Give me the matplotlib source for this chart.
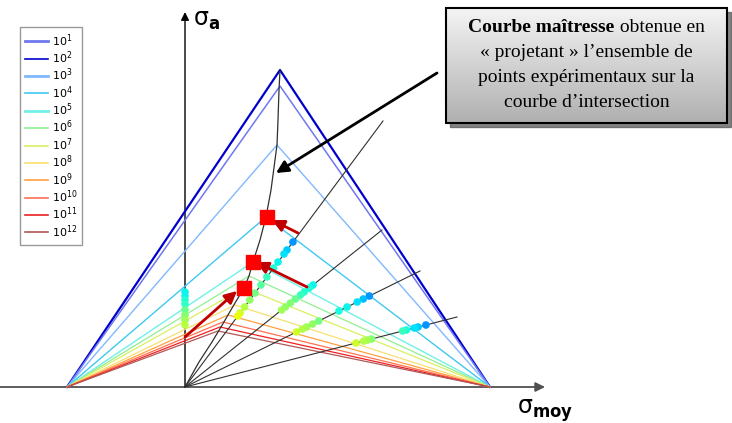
import numpy as np
import matplotlib.pyplot as plt
from matplotlib.patches import Rectangle, FancyArrowPatch
from matplotlib.lines import Line2D
from matplotlib.colors import LinearSegmentedColormap

# diagramme de Haigh (unites de contrainte arbitraires)
exposants = [1, 2, 3, 4, 5, 6, 7, 8, 9, 10, 11, 12]
couleurs = ['#7078f0', '#0000cc', '#80b8ff', '#40c8f0', '#70f0e8', '#90f090',
            '#d8f060', '#f8e070', '#ffa040', '#ff7050', '#ee2020', '#b05858']
largeurs = [1.1, 1.6, 1.0, 1.0, 1.0, 0.9, 0.9, 0.9, 0.9, 0.9, 0.9, 0.9]
pic_moy = [95, 95, 92, 81, 68, 64, 59, 50, 43, 38, 35, 33]
pic_a = [301, 317, 242, 170, 125, 111, 99, 82, 72, 65, 60, 56]
Rc = -118
Rm = 305

# courbe maitresse
courbe_moy = [0, 14, 27, 36, 43, 50, 59, 64, 68, 75, 81, 86, 90, 92, 93, 94, 95]
courbe_a = [0, 25, 45, 60, 72, 84, 99, 111, 125, 147, 170, 197, 227, 242, 267, 297, 317]

# rayons de rapport constant (extremites)
rayon_moy = [198, 197, 235, 272]
rayon_a = [266, 157, 116, 70]

# points experimentaux : sigma_a et exposant de N, par rapport de charge
pts_axe_a = [95, 91, 87, 83, 77, 72, 67, 62]
pts_axe_e = [5, 5, 5.3, 5.5, 6.2, 6.6, 7, 7.3]
pts_r1_a = [145, 137, 133, 125, 119, 110, 102, 94, 87, 80, 74, 71]
pts_r1_e = [4, 4.6, 4.8, 5, 5.3, 5.6, 6, 6.4, 6.8, 7.2, 7.6, 8]
pts_r2_a = [102, 99, 95, 92, 88, 84, 80, 77]
pts_r2_e = [5, 5.2, 5.4, 5.6, 6.2, 6.6, 6.8, 7]
pts_r3_a = [91, 88, 85, 80, 76, 66, 63, 60, 58, 55]
pts_r3_e = [4, 4.4, 4.8, 5, 5.2, 6.4, 6.8, 7, 7.2, 7.6]
pts_r4_a = [62, 60, 59, 57, 56, 48, 47, 46, 44]
pts_r4_e = [4, 4.6, 4.8, 5.2, 5.6, 6.6, 7, 7.2, 7.6]

# projections sur la courbe maitresse
fleche_dep = [(113, 154), (122, 100), (0, 50)]
fleche_arr = [(87, 167), (71, 125), (52, 96)]
proj_moy = [82, 68, 59]
proj_a = [170, 125, 99]

fig = plt.figure(figsize=(7.32, 4.23), dpi=100)
ax = fig.add_axes([0, 0, 1, 1])
ax.set_xlim(-185, 547)
ax.set_ylim(-36, 387)
ax.set_axis_off()

# droites de Haigh pour chaque N
handles = []
ordre = [1, 0] + list(range(2, 12))
for i in ordre:
    ax.plot([Rc, pic_moy[i], Rm], [0, pic_a[i], 0], color=couleurs[i],
            lw=largeurs[i], zorder=2)
for i in range(12):
    handles.append(Line2D([], [], color=couleurs[i], lw=2 if i in (0, 2, 4) else 1.2,
                          label='$10^{%d}$' % exposants[i]))

# rayons
for xm, ya in zip(rayon_moy, rayon_a):
    ax.plot([0, xm], [0, ya], color='#303030', lw=0.8, zorder=3)
ax.plot(courbe_moy, courbe_a, color='#303030', lw=0.9, zorder=3)

# points experimentaux
cmap = plt.cm.jet
for xm, ya, sa, ex in [(0, 1, pts_axe_a, pts_axe_e),
                       (rayon_moy[0], rayon_a[0], pts_r1_a, pts_r1_e),
                       (rayon_moy[1], rayon_a[1], pts_r2_a, pts_r2_e),
                       (rayon_moy[2], rayon_a[2], pts_r3_a, pts_r3_e),
                       (rayon_moy[3], rayon_a[3], pts_r4_a, pts_r4_e)]:
    sa = np.array(sa)
    cols = cmap((np.array(ex) - 1) / 11)
    ax.scatter(sa * xm / ya, sa, c=cols, s=30, marker='o', linewidths=0, zorder=4)

# fleches de projection
for d, a in zip(fleche_dep, fleche_arr):
    ax.add_patch(FancyArrowPatch(d, a, arrowstyle='-|>', mutation_scale=18,
                                 color='#c00000', lw=2, shrinkA=0, shrinkB=0, zorder=5))
ax.plot(proj_moy, proj_a, 's', color='#ff0000', ms=10, zorder=6)

# axes
ax.add_patch(FancyArrowPatch((-185, 0), (360, 0), arrowstyle='-|>', mutation_scale=14,
                             color='#505050', lw=1.3, shrinkA=0, shrinkB=0, zorder=1))
ax.add_patch(FancyArrowPatch((0, 0), (0, 375), arrowstyle='-|>', mutation_scale=12,
                             color='black', lw=1.0, shrinkA=0, shrinkB=0, zorder=1))
ax.text(8, 367, r'$\mathregular{\sigma_{\mathbf{a}}}$', fontsize=17, ha='left', va='center')
ax.text(332, -24, r'$\mathregular{\sigma_{\mathbf{moy}}}$', fontsize=17, ha='left', va='center')

# legende
fig.legend(handles=handles, loc='upper left', bbox_to_anchor=(20 / 732, 1 - 27 / 423),
           fontsize=8, frameon=True, fancybox=False, edgecolor='#808080',
           handlelength=2.1, handletextpad=0.3, labelspacing=0.07,
           borderpad=0.45, borderaxespad=0)

# encadre de commentaire
bx0, bx1, by0, by1 = 261, 542, 264, 379
ax.add_patch(Rectangle((bx0 + 4, by0 - 4), bx1 - bx0, by1 - by0, color='#505050',
                       alpha=0.7, zorder=7))
grad = np.linspace(0, 1, 100).reshape(-1, 1)
ax.imshow(grad, extent=[bx0, bx1, by0, by1], aspect='auto', zorder=8,
          cmap=LinearSegmentedColormap.from_list('g', ['#f4f4f4', '#b0b0b0']),
          origin='upper')
ax.add_patch(Rectangle((bx0, by0), bx1 - bx0, by1 - by0, fill=False, ec='black',
                       lw=1.5, zorder=9))
ax.set_xlim(-185, 547)
ax.set_ylim(-36, 387)

serif = 'Liberation Serif'
fs = 14
renderer = fig.canvas.get_renderer()
t1 = ax.text(0, 0, 'Courbe maîtresse', fontsize=fs, fontweight='bold', family=serif,
             ha='left', va='baseline', zorder=10)
t2 = ax.text(0, 0, ' obtenue en', fontsize=fs, family=serif, ha='left',
             va='baseline', zorder=10)
w1 = t1.get_window_extent(renderer).width
w2 = t2.get_window_extent(renderer).width
cx = (bx0 + bx1) / 2
start = cx - (w1 + w2) / 2
t1.set_position((start, 355))
t2.set_position((start + w1, 355))
lignes = ['« projetant » l’ensemble de', 'points expérimentaux sur la',
          'courbe d’intersection']
for k, l in enumerate(lignes):
    ax.text(cx, 355 - 25 * (k + 1), l, fontsize=fs, family=serif, ha='center',
            va='baseline', zorder=10)

# fleche vers la courbe
ax.add_patch(FancyArrowPatch((252, 314), (91, 214), arrowstyle='-|>', mutation_scale=18,
                             color='black', lw=2, shrinkA=0, shrinkB=0, zorder=6))

fig.savefig('out.png', dpi=100)
